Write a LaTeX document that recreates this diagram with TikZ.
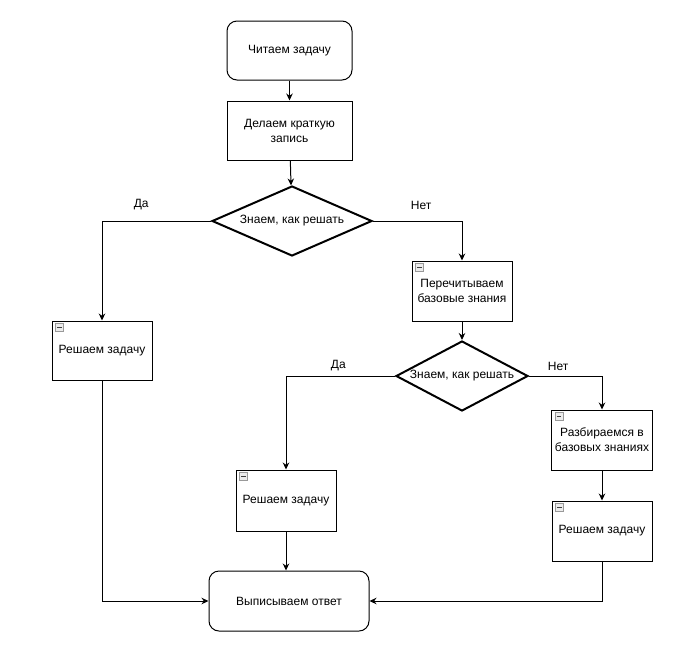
\documentclass[tikz,border=0pt]{standalone}
\usepackage{fontspec}
\setmainfont{Liberation Sans}
\usetikzlibrary{shapes.geometric,arrows.meta}

\begin{document}
\begin{tikzpicture}[x=1pt, y=-1pt, >={Stealth[length=7pt,width=6.5pt]},
  every node/.style={font=\fontsize{12}{15}\selectfont, align=center},
  term/.style={draw, line width=1pt, rounded corners=10pt, minimum height=59pt},
  proc/.style={draw, line width=1pt, minimum width=100pt, minimum height=60pt},
  ask/.style={draw, line width=2pt, diamond, inner sep=0pt, minimum height=70pt},
  lbl/.style={inner sep=0pt},
  fold/.style={draw=gray!80, fill=gray!15, line width=.6pt, minimum size=8pt, inner sep=0pt,
    path picture={\draw[black!75, line width=.8pt] ([xshift=1.8pt]path picture bounding box.west)
      -- ([xshift=-1.8pt]path picture bounding box.east);}},
  line/.style={line width=1pt, ->}]
  \useasboundingbox (0,0) rectangle (679,654);

  % main line
  \node[term, minimum width=125pt] (read) at (289.5,50.5) {Читаем задачу};
  \node[proc, minimum width=125pt, minimum height=59pt] (note) at (289.5,130.5) {Делаем краткую\\запись};
  \node[ask, aspect=2.3, minimum width=160pt] (know1) at (292,221) {Знаем, как решать};

  % left branch
  \node[proc, minimum height=59pt] (solve1) at (102,350.5) {Решаем задачу};

  % right branch
  \node[proc] (reread) at (462,291) {Перечитываем\\базовые знания};
  \node[ask, aspect=1.89, minimum width=132pt] (know2) at (462,376) {Знаем, как решать};
  \node[proc, minimum height=61pt] (solve2) at (286,500.5) {Решаем задачу};
  \node[proc] (study) at (602,440) {Разбираемся в\\базовых знаниях};
  \node[proc] (solve3) at (602,531) {Решаем задачу};

  \node[term, minimum width=160pt, minimum height=60pt] (answer) at (289,601) {Выписываем ответ};

  % small icons
  \foreach \b in {solve1,reread,solve2,study,solve3}
    \node[fold] (\b-icon) at ([shift={(8pt,-6.5pt)}]\b.north west) {};

  % connectors
  \draw[line] (read) -- (note);
  \draw[line] (note) -- (know1);
  \draw[line] (know1.west) -| node[lbl, pos=.32, above=11pt] (yes1) {Да} (solve1.north);
  \draw[line] (know1.east) -| node[lbl, pos=.27, above=11pt] (no1) {Нет} (reread.north);
  \draw[line] (reread) -- (know2);
  \draw[line] (know2.west) -| node[lbl, pos=.26, above=5pt] (yes2) {Да} (solve2.north);
  \draw[line] (know2.east) -| node[lbl, pos=.2, above=5pt] (no2) {Нет} (study.north);
  \draw[line] (study) -- (solve3);
  \draw[line] (solve2.south) -- (solve2.south |- answer.north);
  \draw[line] (solve1.south) |- (answer.west);
  \draw[line] (solve3.south) |- (answer.east);
\end{tikzpicture}
\end{document}
